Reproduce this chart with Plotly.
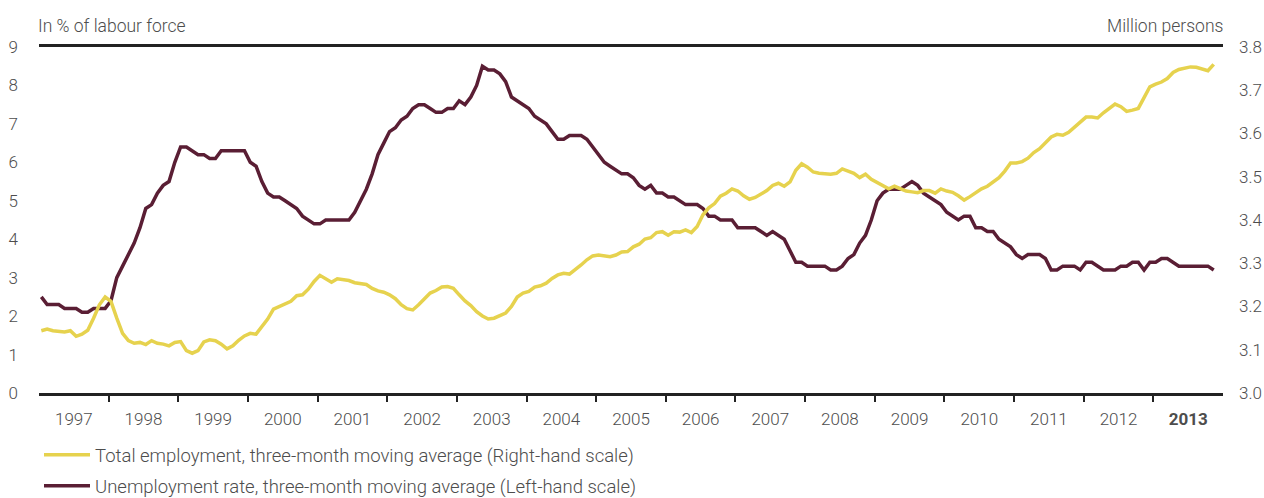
import plotly.graph_objects as go

# ---- data (monthly, Jan 1997 - Nov 2013) ----
start_year = 1997
unemployment_rate = [
    2.5, 2.3, 2.3, 2.3, 2.2, 2.2, 2.2, 2.1, 2.1, 2.2, 2.2, 2.2,
    2.4, 3.0, 3.3, 3.6, 3.9, 4.3, 4.8, 4.9, 5.2, 5.4, 5.5, 6.0,
    6.4, 6.4, 6.3, 6.2, 6.2, 6.1, 6.1, 6.3, 6.3, 6.3, 6.3, 6.3,
    6.0, 5.9, 5.5, 5.2, 5.1, 5.1, 5.0, 4.9, 4.8, 4.6, 4.5, 4.4,
    4.4, 4.5, 4.5, 4.5, 4.5, 4.5, 4.7, 5.0, 5.3, 5.7, 6.2, 6.5,
    6.8, 6.9, 7.1, 7.2, 7.4, 7.5, 7.5, 7.4, 7.3, 7.3, 7.4, 7.4,
    7.6, 7.5, 7.7, 8.0, 8.5, 8.4, 8.4, 8.3, 8.1, 7.7, 7.6, 7.5,
    7.4, 7.2, 7.1, 7.0, 6.8, 6.6, 6.6, 6.7, 6.7, 6.7, 6.6, 6.4,
    6.2, 6.0, 5.9, 5.8, 5.7, 5.7, 5.6, 5.4, 5.3, 5.4, 5.2, 5.2,
    5.1, 5.1, 5.0, 4.9, 4.9, 4.9, 4.8, 4.6, 4.6, 4.5, 4.5, 4.5,
    4.3, 4.3, 4.3, 4.3, 4.2, 4.1, 4.2, 4.1, 4.0, 3.7, 3.4, 3.4,
    3.3, 3.3, 3.3, 3.3, 3.2, 3.2, 3.3, 3.5, 3.6, 3.9, 4.1, 4.5,
    5.0, 5.2, 5.3, 5.3, 5.3, 5.4, 5.5, 5.4, 5.2, 5.1, 5.0, 4.9,
    4.7, 4.6, 4.5, 4.6, 4.6, 4.3, 4.3, 4.2, 4.2, 4.0, 3.9, 3.8,
    3.6, 3.5, 3.6, 3.6, 3.6, 3.5, 3.2, 3.2, 3.3, 3.3, 3.3, 3.2,
    3.4, 3.4, 3.3, 3.2, 3.2, 3.2, 3.3, 3.3, 3.4, 3.4, 3.2, 3.4,
    3.4, 3.5, 3.5, 3.4, 3.3, 3.3, 3.3, 3.3, 3.3, 3.3, 3.2,
]
total_employment = [
    3.144, 3.148, 3.144, 3.142, 3.141, 3.144, 3.131, 3.136, 3.145, 3.173, 3.204, 3.222,
    3.212, 3.173, 3.138, 3.121, 3.115, 3.117, 3.112, 3.121, 3.115, 3.113, 3.109, 3.117,
    3.119, 3.098, 3.092, 3.098, 3.118, 3.123, 3.121, 3.113, 3.102, 3.109, 3.122, 3.132,
    3.138, 3.136, 3.154, 3.171, 3.194, 3.200, 3.204, 3.212, 3.225, 3.227, 3.240, 3.258,
    3.272, 3.265, 3.256, 3.264, 3.262, 3.260, 3.255, 3.253, 3.251, 3.242, 3.236, 3.233,
    3.227, 3.218, 3.204, 3.195, 3.192, 3.204, 3.219, 3.231, 3.237, 3.245, 3.246, 3.242,
    3.227, 3.213, 3.202, 3.188, 3.178, 3.171, 3.173, 3.178, 3.185, 3.200, 3.222, 3.231,
    3.235, 3.245, 3.248, 3.254, 3.265, 3.273, 3.277, 3.275, 3.285, 3.296, 3.308, 3.317,
    3.319, 3.317, 3.315, 3.319, 3.326, 3.327, 3.338, 3.344, 3.356, 3.359, 3.371, 3.373,
    3.365, 3.373, 3.372, 3.377, 3.371, 3.385, 3.412, 3.428, 3.438, 3.455, 3.462, 3.472,
    3.467, 3.456, 3.448, 3.452, 3.460, 3.468, 3.480, 3.485, 3.478, 3.488, 3.515, 3.530,
    3.522, 3.511, 3.508, 3.507, 3.506, 3.508, 3.518, 3.513, 3.508, 3.498, 3.506, 3.494,
    3.486, 3.478, 3.472, 3.478, 3.472, 3.467, 3.465, 3.463, 3.468, 3.468, 3.462, 3.472,
    3.467, 3.464, 3.456, 3.446, 3.454, 3.463, 3.472, 3.478, 3.488, 3.498, 3.513, 3.532,
    3.532, 3.535, 3.543, 3.556, 3.565, 3.580, 3.592, 3.598, 3.596, 3.603, 3.615, 3.625,
    3.638, 3.638, 3.636, 3.648, 3.658, 3.668, 3.662, 3.651, 3.654, 3.658, 3.683, 3.708,
    3.714, 3.719, 3.727, 3.741, 3.748, 3.752, 3.754, 3.753, 3.748, 3.745, 3.760,
]
year_labels = [str(y) for y in range(1997, 2014)]
left_ticks = list(range(0, 10))
right_ticks = [3.0, 3.1, 3.2, 3.3, 3.4, 3.5, 3.6, 3.7, 3.8]

# x positions: month index -> fractional year
x_u = [start_year + (i + 0.4) / 12 for i in range(len(unemployment_rate))]
x_e = [start_year + (i + 0.4) / 12 for i in range(len(total_employment))]

YELLOW = "#E6D24E"
MAROON = "#5A1E34"
TXT = "#4d4d4d"
FONT = "Roboto"
W = 300

fig = go.Figure()
fig.add_trace(go.Scatter(
    x=x_e, y=total_employment, yaxis="y2", mode="lines",
    line=dict(color=YELLOW, width=3.5), legendgroup="emp",
    name="Total employment, three-month moving average (Right-hand scale)",
))
fig.add_trace(go.Scatter(
    x=x_u, y=unemployment_rate, yaxis="y", mode="lines",
    line=dict(color=MAROON, width=3.5), legendgroup="unemp",
    name="Unemployment rate, three-month moving average (Left-hand scale)",
))

ticktext = [f"<b>{y}</b>" if y == "2013" else y for y in year_labels]

fig.update_layout(
    width=1264, height=498,
    margin=dict(l=39, r=41, t=47, b=105, autoexpand=False),
    paper_bgcolor="white", plot_bgcolor="white",
    font=dict(family=FONT, size=17, color=TXT, weight=W),
    showlegend=True,
    legend=dict(
        orientation="v", x=0, xanchor="left", y=-0.125, yanchor="top",
        font=dict(family=FONT, size=18.5, color=TXT, weight=W),
        itemwidth=46, tracegroupgap=4, traceorder="grouped",
        bgcolor="rgba(0,0,0,0)",
    ),
    xaxis=dict(
        range=[1997, 2014], showgrid=False, zeroline=False, automargin=False,
        tickmode="array", tickvals=[int(y) + 0.5 for y in year_labels], ticktext=ticktext,
        ticks="", ticklabelstandoff=9,
        showline=True, linecolor="#222222", linewidth=2.5, mirror=True,
        minor=dict(tickmode="array", tickvals=[int(y) for y in year_labels[1:]],
                   ticks="outside", ticklen=6, tickwidth=2, tickcolor="#222222"),
        tickfont=dict(family=FONT, size=17, color=TXT, weight=W),
    ),
    yaxis=dict(
        range=[0, 9], tickmode="array", tickvals=left_ticks, showgrid=False, zeroline=False,
        automargin=False, ticks="", ticklabelstandoff=20,
        tickfont=dict(family=FONT, size=17, color=TXT, weight=W),
    ),
    yaxis2=dict(
        range=[3.0, 3.8], overlaying="y", side="right", tickmode="array",
        tickvals=right_ticks, tickformat=".1f", showgrid=False, zeroline=False,
        automargin=False, ticks="", ticklabelstandoff=15,
        tickfont=dict(family=FONT, size=17, color=TXT, weight=W),
    ),
    annotations=[
        dict(text="In % of labour force", xref="paper", yref="paper", x=0, y=1,
             xanchor="left", yanchor="bottom", yshift=9, xshift=-3, showarrow=False,
             font=dict(family=FONT, size=17.5, color=TXT, weight=W)),
        dict(text="Million persons", xref="paper", yref="paper", x=1, y=1,
             xanchor="right", yanchor="bottom", yshift=9, xshift=2, showarrow=False,
             font=dict(family=FONT, size=17.5, color=TXT, weight=W)),
    ],
)

fig.write_html(
    "out.html",
    config={"displayModeBar": False},
    post_script="document.body.style.margin='0px';document.body.style.overflow='hidden';",
)
